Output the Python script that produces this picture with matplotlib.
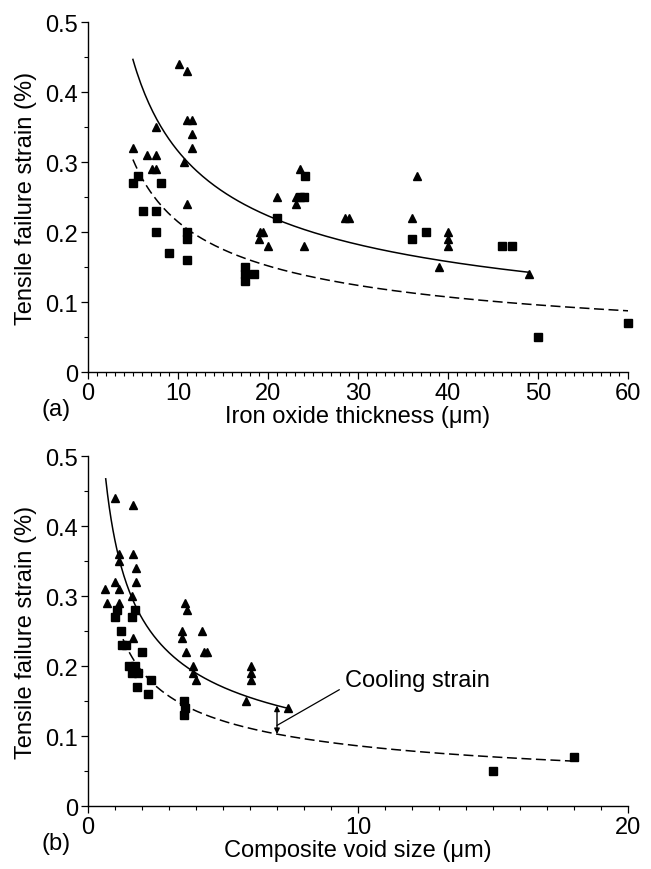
import numpy as np
import matplotlib
matplotlib.use("Agg")
import matplotlib.pyplot as plt
from matplotlib.ticker import MultipleLocator, FuncFormatter

plt.rcParams['font.family'] = ['Liberation Sans', 'DejaVu Sans']

# ---------------- data: panel (a) ----------------
a_tri_x = [5.0, 6.6, 7.1, 7.6, 7.6, 7.6, 10.1, 10.7, 11.05, 11.05, 11.05, 11.6, 11.6, 11.6,
           19.0, 19.1, 19.5, 20.05, 21.05, 23.1, 23.1, 23.6, 24.0, 28.5, 29.0, 36.0, 36.6,
           39.0, 40.0, 40.0, 40.0, 49.0]
a_tri_y = [0.32, 0.31, 0.29, 0.35, 0.31, 0.29, 0.44, 0.30, 0.43, 0.36, 0.24, 0.36, 0.34, 0.32,
           0.19, 0.20, 0.20, 0.18, 0.25, 0.25, 0.24, 0.29, 0.18, 0.22, 0.22, 0.22, 0.28,
           0.15, 0.20, 0.19, 0.18, 0.14]
a_sq_x = [5.0, 5.6, 6.1, 7.6, 7.6, 8.1, 9.0, 11.05, 11.05, 11.05, 17.5, 17.5, 17.5, 18.5,
          21.05, 23.5, 24.0, 24.1, 36.0, 37.5, 46.0, 47.1, 50.0, 60.0]
a_sq_y = [0.27, 0.28, 0.23, 0.23, 0.20, 0.27, 0.17, 0.20, 0.19, 0.16, 0.15, 0.14, 0.13, 0.14,
          0.22, 0.25, 0.25, 0.28, 0.19, 0.20, 0.18, 0.18, 0.05, 0.07]
# fitted power-law curves y = k / sqrt(x)
a_solid_k, a_solid_range = 1.00, (5.0, 49.0)
a_dash_k, a_dash_range = 0.68, (5.0, 60.0)

# ---------------- data: panel (b) ----------------
b_tri_x = [0.63, 0.69, 1.0, 1.0, 1.16, 1.16, 1.16, 1.16, 1.62, 1.66, 1.66, 1.66, 1.77, 1.77,
           3.48, 3.48, 3.58, 3.63, 3.67, 3.88, 3.88, 4.02, 4.23, 4.29, 4.41, 5.87, 6.02,
           6.02, 6.02, 7.4]
b_tri_y = [0.31, 0.29, 0.44, 0.32, 0.36, 0.35, 0.31, 0.29, 0.30, 0.43, 0.36, 0.24, 0.34, 0.32,
           0.25, 0.24, 0.29, 0.22, 0.28, 0.20, 0.19, 0.18, 0.25, 0.22, 0.22, 0.15, 0.20,
           0.19, 0.18, 0.14]
b_sq_x = [1.0, 1.09, 1.23, 1.25, 1.41, 1.52, 1.62, 1.62, 1.75, 1.75, 1.85, 1.81, 1.99, 2.21,
          2.34, 3.54, 3.54, 3.60, 15.0, 18.0]
b_sq_y = [0.27, 0.28, 0.25, 0.23, 0.23, 0.20, 0.27, 0.19, 0.28, 0.20, 0.19, 0.17, 0.22, 0.16,
          0.18, 0.15, 0.13, 0.14, 0.05, 0.07]
b_solid_k, b_solid_range = 0.38, (0.66, 7.35)
b_dash_k, b_dash_range = 0.272, (1.3, 17.9)
cool_x = 7.0

FS = 17

fig = plt.figure(figsize=(6.51, 8.70), dpi=100)
axa = fig.add_axes([0.135, 0.571, 0.83, 0.402])
axb = fig.add_axes([0.135, 0.0724, 0.83, 0.402])


def style(ax, xmax, xmajor, xlabel, tag):
    ax.set_xlim(0, xmax)
    ax.set_ylim(0, 0.5)
    ax.spines['top'].set_visible(False)
    ax.spines['right'].set_visible(False)
    ax.spines['left'].set_linewidth(1.0)
    ax.spines['bottom'].set_linewidth(1.0)
    ax.xaxis.set_major_locator(MultipleLocator(xmajor))
    ax.xaxis.set_minor_locator(MultipleLocator(1))
    ax.yaxis.set_major_locator(MultipleLocator(0.1))
    ax.yaxis.set_minor_locator(MultipleLocator(0.05))
    ax.yaxis.set_major_formatter(FuncFormatter(lambda v, p: '0' if abs(v) < 1e-9 else f'{v:.1f}'))
    ax.tick_params(which='major', direction='out', length=5, width=0.9, labelsize=FS, pad=2)
    ax.tick_params(which='minor', direction='out', length=3, width=0.8)
    ax.set_xlabel(xlabel, fontsize=FS, labelpad=1)
    ax.set_ylabel('Tensile failure strain (%)', fontsize=FS, labelpad=6)
    ax.text(-0.085, -0.105, tag, transform=ax.transAxes, fontsize=FS, ha='left', va='center')


def fit_curve(ax, k, rng, **kw):
    xs = np.linspace(rng[0], rng[1], 200)
    ax.plot(xs, k / np.sqrt(xs), color='black', lw=1.1, **kw)


# panel (a)
fit_curve(axa, a_solid_k, a_solid_range)
fit_curve(axa, a_dash_k, a_dash_range, dashes=(6.5, 3))
axa.plot(a_tri_x, a_tri_y, ls='none', marker='^', ms=5.8, color='black', clip_on=False)
axa.plot(a_sq_x, a_sq_y, ls='none', marker='s', ms=6, color='black', clip_on=False)
style(axa, 60, 10, 'Iron oxide thickness (μm)', '(a)')

# panel (b)
fit_curve(axb, b_solid_k, b_solid_range)
fit_curve(axb, b_dash_k, b_dash_range, dashes=(6.5, 3))
axb.plot(b_tri_x, b_tri_y, ls='none', marker='^', ms=5.8, color='black', clip_on=False)
axb.plot(b_sq_x, b_sq_y, ls='none', marker='s', ms=6, color='black', clip_on=False)
y_top = b_solid_k / np.sqrt(cool_x)
y_bot = b_dash_k / np.sqrt(cool_x)
axb.annotate('', xy=(cool_x, y_top), xytext=(cool_x, y_bot),
             arrowprops=dict(arrowstyle='<|-|>', color='black', lw=1.0,
                             mutation_scale=8, shrinkA=0, shrinkB=0))
axb.annotate('Cooling strain', xy=(cool_x, (y_top + y_bot) / 2 - 0.008), xytext=(9.5, 0.18),
             fontsize=FS, ha='left', va='center',
             arrowprops=dict(arrowstyle='-', color='black', lw=0.9, shrinkA=2, shrinkB=0,
                             relpos=(0, 0.2)))
style(axb, 20, 10, 'Composite void size (μm)', '(b)')

fig.savefig('out.png', dpi=100)
